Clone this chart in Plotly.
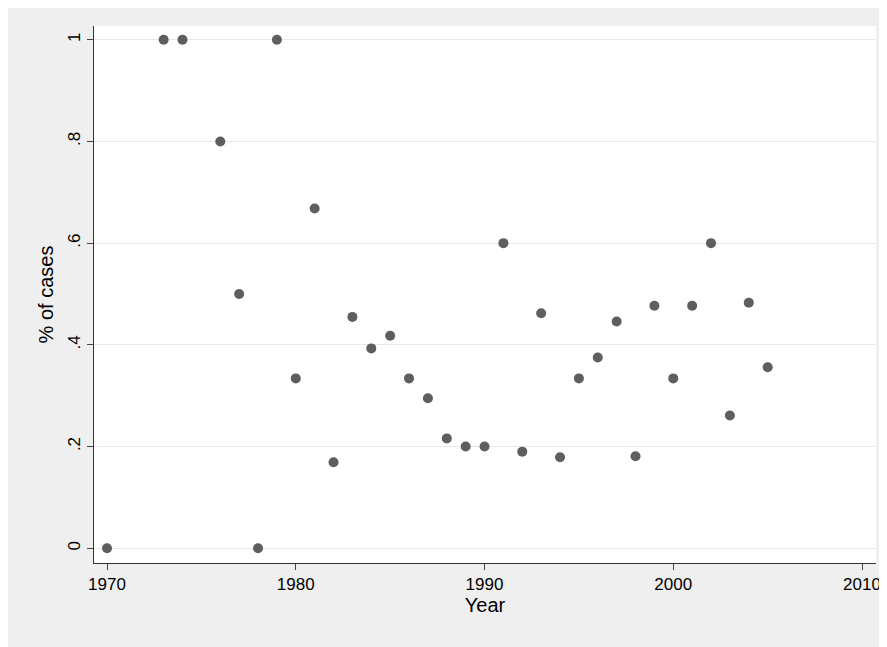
import plotly.graph_objects as go

years = [1970, 1973, 1974, 1976, 1977, 1978, 1979, 1980, 1981, 1982, 1983, 1984,
         1985, 1986, 1987, 1988, 1989, 1990, 1991, 1992, 1993, 1994, 1995, 1996,
         1997, 1998, 1999, 2000, 2001, 2002, 2003, 2004, 2005]
pct_cases = [0, 1, 1, 0.8, 0.5, 0, 1, 0.334, 0.668, 0.169, 0.455, 0.393,
             0.418, 0.334, 0.295, 0.216, 0.2, 0.2, 0.6, 0.19, 0.462, 0.179, 0.334, 0.375,
             0.446, 0.181, 0.477, 0.334, 0.477, 0.6, 0.261, 0.483, 0.356]
y_ticks = [0, 0.2, 0.4, 0.6, 0.8, 1]
y_labels = ["0", ".2", ".4", ".6", ".8", "1"]

fig = go.Figure(go.Scatter(x=years, y=pct_cases, mode="markers",
                           marker=dict(color="#5e5e5e", size=10)))

# page body adds an 8px margin, so the figure is shrunk to fit the window
fig.update_layout(
    width=879, height=639, showlegend=False,
    paper_bgcolor="#efefef", plot_bgcolor="white",
    margin=dict(l=86, r=11, t=18, b=84),
    font=dict(family="Liberation Sans, Arial", size=17, color="black"),
)
fig.update_xaxes(range=[1969.31, 2010.74], tickvals=[1970, 1980, 1990, 2000, 2010],
                 showgrid=False, showline=True, linecolor="#333333", ticks="outside",
                 ticklen=6, zeroline=False, ticklabeloverflow="allow", automargin=False,
                 title=dict(text="Year", standoff=2))
fig.update_yaxes(range=[-0.029, 1.027], tickvals=y_ticks, ticktext=y_labels, tickangle=-90,
                 showgrid=True, gridcolor="#e8e8e8", showline=True, linecolor="#333333",
                 ticks="outside", ticklen=6, zeroline=False, automargin=False,
                 title=dict(text="% of cases", standoff=6))

fig.write_html("out.html")
